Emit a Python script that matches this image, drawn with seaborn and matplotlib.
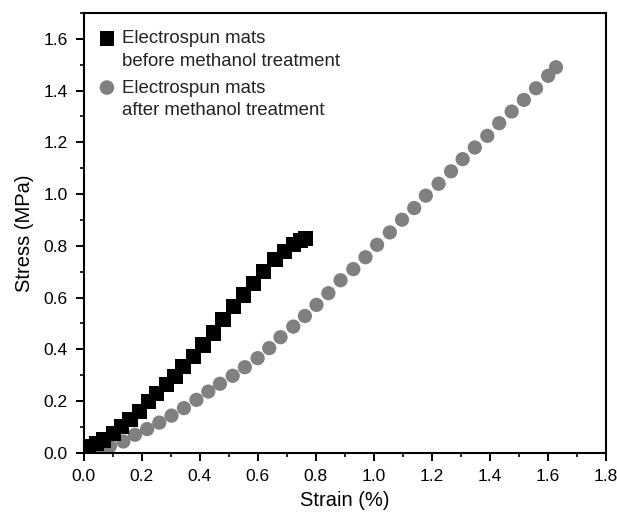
import matplotlib
matplotlib.use("Agg")
import matplotlib.pyplot as plt
import seaborn as sns
import numpy as np
from matplotlib.ticker import MultipleLocator, FormatStrFormatter

sns.set_theme(style="white")
plt.rcParams['font.family'] = ['Liberation Sans', 'DejaVu Sans']

# Before methanol treatment (black squares)
strain_before = [0.015, 0.044, 0.067, 0.101, 0.130, 0.159, 0.193, 0.222, 0.251, 0.285,
                 0.314, 0.342, 0.377, 0.411, 0.446, 0.480, 0.515, 0.549, 0.584, 0.618,
                 0.659, 0.693, 0.722, 0.748, 0.764]
stress_before = [0.024, 0.037, 0.050, 0.076, 0.102, 0.128, 0.160, 0.198, 0.231, 0.263,
                 0.295, 0.334, 0.372, 0.417, 0.463, 0.514, 0.565, 0.610, 0.656, 0.700,
                 0.746, 0.778, 0.804, 0.820, 0.828]

# After methanol treatment (gray circles)
strain_after = [0.010, 0.053, 0.090, 0.136, 0.176, 0.218, 0.260, 0.302, 0.345, 0.388,
                0.429, 0.469, 0.513, 0.555, 0.599, 0.639, 0.678, 0.722, 0.762, 0.802,
                0.843, 0.885, 0.929, 0.971, 1.011, 1.055, 1.097, 1.139, 1.179, 1.223,
                1.266, 1.306, 1.348, 1.391, 1.432, 1.475, 1.517, 1.559, 1.601, 1.628]
stress_after = [0.010, 0.014, 0.027, 0.044, 0.070, 0.092, 0.117, 0.144, 0.173, 0.205,
                0.237, 0.267, 0.298, 0.331, 0.366, 0.405, 0.447, 0.488, 0.529, 0.572,
                0.617, 0.667, 0.710, 0.756, 0.804, 0.852, 0.901, 0.946, 0.994, 1.040,
                1.088, 1.135, 1.180, 1.225, 1.274, 1.319, 1.364, 1.409, 1.457, 1.490]

label_before = "Electrospun mats\nbefore methanol treatment"
label_after = "Electrospun mats\nafter methanol treatment"

fig = plt.figure(figsize=(6.17, 5.17), dpi=100)
ax = fig.add_axes([0.136, 0.124, 0.846, 0.851])

sns.scatterplot(x=strain_before, y=stress_before, marker='s', s=120, color='black',
                edgecolor='none', linewidth=0, label=label_before, ax=ax, zorder=3)
sns.scatterplot(x=strain_after, y=stress_after, marker='o', s=105, color='#808080',
                edgecolor='none', linewidth=0, label=label_after, ax=ax, zorder=2)

ax.set_xlim(0, 1.8)
ax.set_ylim(0, 1.7)
ax.xaxis.set_major_locator(MultipleLocator(0.2))
ax.xaxis.set_minor_locator(MultipleLocator(0.1))
ax.set_yticks(np.arange(0, 1.61, 0.2))
ax.yaxis.set_minor_locator(MultipleLocator(0.1))
ax.xaxis.set_major_formatter(FormatStrFormatter('%.1f'))
ax.yaxis.set_major_formatter(FormatStrFormatter('%.1f'))

ax.tick_params(axis='both', which='major', direction='out', length=5.5, width=1.4,
               labelsize=12.5, colors='black', pad=6,
               bottom=True, left=True, top=False, right=False)
ax.tick_params(axis='both', which='minor', direction='out', length=3, width=1.4,
               bottom=True, left=True, top=False, right=False)
for sp in ax.spines.values():
    sp.set_visible(True)
    sp.set_color('black')
    sp.set_linewidth(1.5)

ax.set_xlabel("Strain (%)", fontsize=14.5, color='black', labelpad=5)
ax.set_ylabel("Stress (MPa)", fontsize=14.5, color='black', labelpad=7)

leg = ax.legend(loc='upper left', frameon=False, fontsize=13.4, handletextpad=0.3,
                handlelength=1.0, borderaxespad=0.0, labelspacing=0.52,
                bbox_to_anchor=(0.012, 0.977))
for t in leg.get_texts():
    t.set_linespacing(1.43)
    t.set_color('#222222')
for h in leg.legend_handles:
    h.set_sizes([110])
    offs = h.get_offsets()
    offs[:, 1] += 9.8
    h.set_offsets(offs)

fig.savefig("out.png", dpi=100)
